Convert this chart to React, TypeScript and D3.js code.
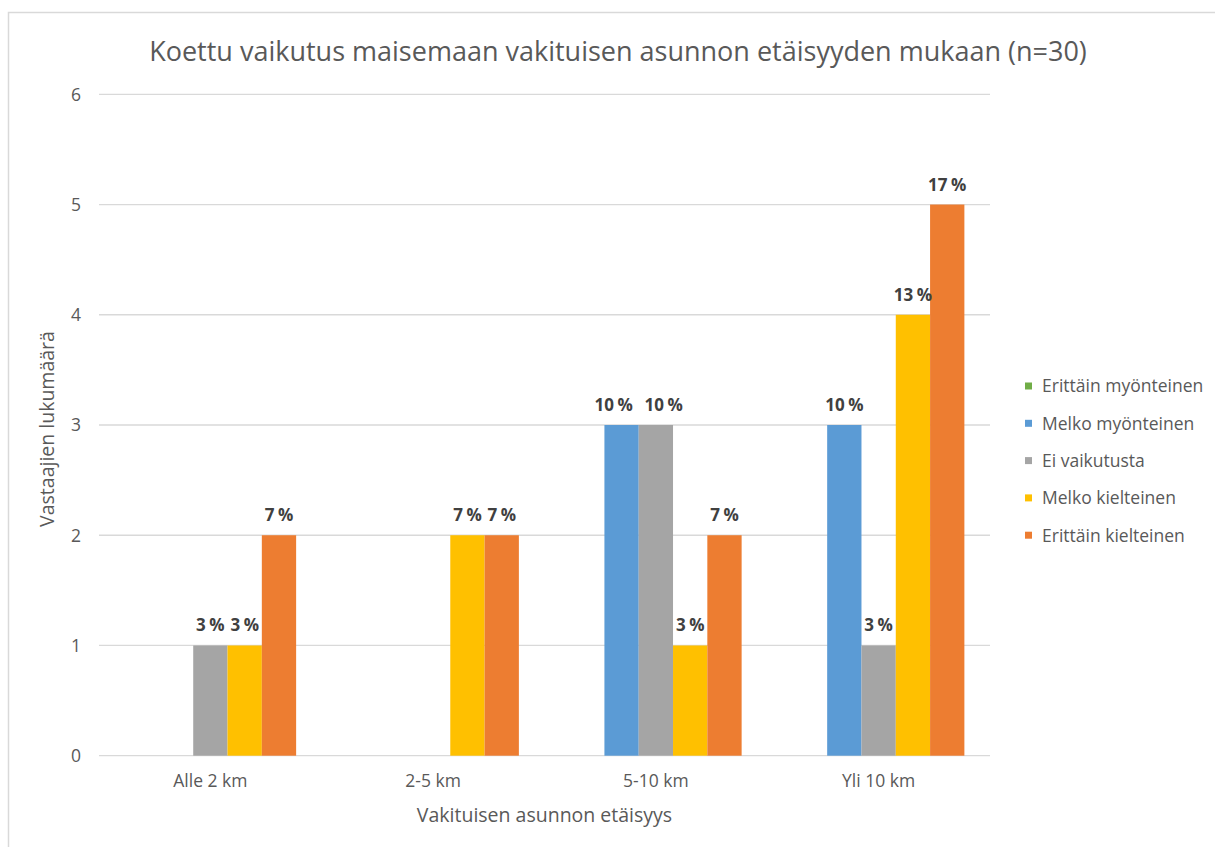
import React from "react";
import * as d3 from "d3";

const categories = ["Alle 2 km", "2-5 km", "5-10 km", "Yli 10 km"];
const seriesNames = [
  "Erittäin myönteinen",
  "Melko myönteinen",
  "Ei vaikutusta",
  "Melko kielteinen",
  "Erittäin kielteinen",
];
const seriesColors = ["#70AD47", "#5B9BD5", "#A5A5A5", "#FFC000", "#ED7D31"];
// counts per category, in series order
const counts = [
  [0, 0, 1, 1, 2],
  [0, 0, 0, 2, 2],
  [0, 3, 3, 1, 2],
  [0, 3, 1, 4, 5],
];
const respondents = 30;
const yTicks = [0, 1, 2, 3, 4, 5, 6];

const title = "Koettu vaikutus maisemaan vakituisen asunnon etäisyyden mukaan (n=30)";
const yTitle = "Vastaajien lukumäärä";
const xTitle = "Vakituisen asunnon etäisyys";

const W = 1215;
const H = 847;
const font = "'Open Sans', Lato, sans-serif";

export default function App() {
  const plotLeft = 99;
  const plotRight = 990;
  const plotTop = 94.3;
  const plotBottom = 755.7;

  const x0 = d3.scaleBand().domain(categories).range([plotLeft, plotRight]).padding(0);
  const x1 = d3
    .scaleBand()
    .domain(seriesNames)
    .range([0, x0.bandwidth()])
    .paddingInner(0)
    .paddingOuter(0.747);
  const y = d3.scaleLinear().domain([0, 6]).range([plotBottom, plotTop]);

  const plotMid = (plotLeft + plotRight) / 2;

  // label positions, pushing apart wide labels that sit on equal-height neighbours
  const labelPos = (ci: number) => {
    const out = seriesNames.map((s) => (x1(s) as number) + x1.bandwidth() / 2);
    const row = counts[ci];
    for (let i = 0; i < row.length - 1; i++) {
      const v = row[i];
      if (v && row[i + 1] === v && Math.round((v / respondents) * 100) >= 10) {
        const d = out[i + 1] - out[i];
        const push = (50 - d) / 2;
        if (push > 0) {
          out[i] -= push;
          out[i + 1] += push;
        }
      }
    }
    return out;
  };

  return (
    <svg
      width={W}
      height={H}
      style={{ position: "absolute", left: 0, top: 0, display: "block", background: "#fff" }}
      fontFamily={font}
    >
      <rect x={8.5} y={12.5} width={1240} height={900} fill="#fff" stroke="#D9D9D9" strokeWidth={1.5} />

      <text x={618} y={61} textAnchor="middle" fontSize={27} fill="#595959">
        {title}
      </text>

      {/* gridlines and y ticks */}
      {yTicks.map((t) => (
        <g key={t}>
          <line x1={plotLeft} x2={plotRight} y1={y(t)} y2={y(t)} stroke="#D9D9D9" strokeWidth={1.3} />
          <text x={81} y={y(t)} dy="0.36em" textAnchor="end" fontSize={17.5} fill="#595959">
            {t}
          </text>
        </g>
      ))}

      {/* bars */}
      {categories.map((c, ci) => {
        const lx = labelPos(ci);
        return (
          <g key={c} transform={`translate(${x0(c)},0)`}>
            {seriesNames.map((s, si) => {
              const v = counts[ci][si];
              if (!v) return null;
              return (
                <rect
                  key={s}
                  x={x1(s)}
                  y={y(v)}
                  width={x1.bandwidth()}
                  height={y(0) - y(v)}
                  fill={seriesColors[si]}
                />
              );
            })}
            {seriesNames.map((s, si) => {
              const v = counts[ci][si];
              if (!v) return null;
              return (
                <text
                  key={s + "-l"}
                  x={lx[si]}
                  y={y(v) - 14}
                  textAnchor="middle"
                  fontSize={17}
                  fontWeight="bold"
                  fill="#404040"
                >
                  <tspan>{Math.round((v / respondents) * 100)}</tspan>
                  <tspan dx={3.5}>%</tspan>
                </text>
              );
            })}
            <text
              x={x0.bandwidth() / 2}
              y={787}
              textAnchor="middle"
              fontSize={17.5}
              fill="#595959"
            >
              {c}
            </text>
          </g>
        );
      })}

      {/* axis titles */}
      <text x={plotMid} y={821.5} textAnchor="middle" fontSize={19.5} fill="#595959">
        {xTitle}
      </text>
      <text
        transform={`translate(54,${(plotTop + plotBottom) / 2 + 4}) rotate(-90)`}
        textAnchor="middle"
        fontSize={19.5}
        fill="#595959"
      >
        {yTitle}
      </text>

      {/* legend */}
      {seriesNames.map((s, i) => {
        const cy = 386 + i * 37.3;
        return (
          <g key={s}>
            <rect x={1025} y={cy - 3.5} width={7} height={7} fill={seriesColors[i]} />
            <text x={1042} y={cy} dy="0.36em" fontSize={17.5} fill="#595959">
              {s}
            </text>
          </g>
        );
      })}
    </svg>
  );
}
